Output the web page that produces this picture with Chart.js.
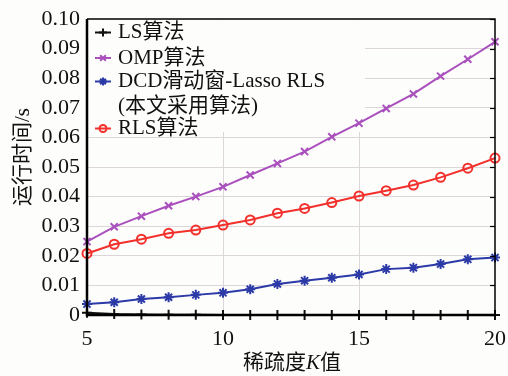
<!DOCTYPE html>
<html>
<head>
<meta charset="utf-8">
<script src="https://cdn.jsdelivr.net/npm/chart.js@4.4.1/dist/chart.umd.min.js"></script>
<style>
    html, body { margin: 0; padding: 0; background: #fdfdfb; }
    #wrap { width: 508px; height: 376px; }
</style>
</head>
<body>
<div id="wrap"><canvas id="runtime-chart" width="508" height="376"></canvas></div>
<script>
// 稀疏度 K 与各算法运行时间
const kValues = [5, 6, 7, 8, 9, 10, 11, 12, 13, 14, 15, 16, 17, 18, 19, 20];
const lsTime  = [0.0008, 0.0003, 0.0002, 0.0001, 0.0001, 0, 0, 0, 0, 0, 0, 0, 0, 0, 0, 0];
const ompTime = [0.0248, 0.0298, 0.0334, 0.0369, 0.0400, 0.0433, 0.0473, 0.0512,
                 0.0552, 0.0602, 0.0648, 0.0698, 0.0747, 0.0807, 0.0864, 0.0923];
const dcdTime = [0.0037, 0.0043, 0.0054, 0.0060, 0.0068, 0.0075, 0.0087, 0.0105,
                 0.0116, 0.0126, 0.0137, 0.0155, 0.0160, 0.0172, 0.0188, 0.0194];
const rlsTime = [0.0208, 0.0239, 0.0256, 0.0276, 0.0287, 0.0304, 0.0321, 0.0344,
                 0.0360, 0.0380, 0.0402, 0.0420, 0.0439, 0.0465, 0.0496, 0.0530];
const seriesNames = ['LS算法', 'OMP算法', 'DCD滑动窗-Lasso RLS\n(本文采用算法)', 'RLS算法'];
const xTicks = [5, 10, 15, 20];
const yTicks = [0, 0.01, 0.02, 0.03, 0.04, 0.05, 0.06, 0.07, 0.08, 0.09, 0.10];

const BG = '#fdfdfb';
const FONT = '"Liberation Serif", "Noto Sans CJK SC", serif';
const GRID = '#dcd6da';

function toPoints(values) {
    return kValues.map((k, i) => ({ x: k, y: values[i] }));
}

function makeDataset(label, values, color, style, radius) {
    const fill = style === 'circle' ? 'rgba(0,0,0,0)' : color;
    return {
        label: label,
        data: toPoints(values),
        borderColor: color,
        backgroundColor: fill,
        borderWidth: 2,
        pointStyle: style,
        pointRadius: radius,
        pointBorderWidth: 2,
        pointBorderColor: color,
        pointBackgroundColor: fill,
        tension: 0,
        clip: false
    };
}

// keep the plot box fixed, labels may hang over the edges
function fixBox(scale, size, horizontal) {
    if (horizontal) scale.height = size; else scale.width = size;
    scale.paddingLeft = 0;
    scale.paddingRight = 0;
    scale.paddingTop = 0;
    scale.paddingBottom = 0;
}

// legend, frame and axis titles drawn by hand (legend sits inside the plot)
const decorPlugin = {
    id: 'decor',
    beforeDraw(chart) {
        const ctx = chart.ctx;
        ctx.save();
        ctx.fillStyle = BG;
        ctx.fillRect(0, 0, chart.width, chart.height);
        ctx.restore();
    },
    beforeDatasetsDraw(chart) {
        // legend box hides the grid behind it, lines still go over it
        const a = chart.chartArea;
        const ctx = chart.ctx;
        ctx.save();
        ctx.fillStyle = BG;
        ctx.fillRect(a.left + 1, a.top + 1, 277, 112);
        ctx.restore();
    },
    afterDatasetsDraw(chart) {
        const ctx = chart.ctx;
        const a = chart.chartArea;
        const yScale = chart.scales.y;
        ctx.save();

        // inward ticks on the right
        ctx.strokeStyle = '#000';
        ctx.lineWidth = 1.2;
        yTicks.forEach(v => {
            const py = Math.round(yScale.getPixelForValue(v)) + 0.5;
            ctx.beginPath();
            ctx.moveTo(a.right, py); ctx.lineTo(a.right - 5, py);
            ctx.stroke();
        });

        const rows = [32.5, 58, 81.5, 128.5];
        ctx.font = '21px ' + FONT;
        ctx.textBaseline = 'middle';
        ctx.textAlign = 'left';
        chart.data.datasets.forEach((ds, i) => {
            const y = rows[i];
            ctx.strokeStyle = ds.borderColor;
            ctx.fillStyle = ds.pointBackgroundColor;
            ctx.lineWidth = 2;
            ctx.beginPath();
            ctx.moveTo(95, y); ctx.lineTo(111, y);
            ctx.stroke();
            Chart.helpers.drawPoint(ctx, {
                pointStyle: ds.pointStyle,
                radius: ds.pointRadius - 1,
                borderWidth: 2,
                rotation: 0
            }, 103, y);
            ctx.fillStyle = '#111';
            const lines = seriesNames[i].split('\n');
            lines.forEach((t, j) => ctx.fillText(t, 118, y + j * 24.5));
        });

        // frame
        ctx.strokeStyle = '#000';
        ctx.lineWidth = 1.5;
        ctx.beginPath();
        ctx.moveTo(a.left, a.top); ctx.lineTo(a.right, a.top); ctx.lineTo(a.right, a.bottom);
        ctx.stroke();
        ctx.lineWidth = 2.5;
        ctx.beginPath();
        ctx.moveTo(a.left, a.top); ctx.lineTo(a.left, a.bottom); ctx.lineTo(a.right + 1, a.bottom);
        ctx.stroke();

        // y title
        ctx.fillStyle = '#111';
        ctx.font = '21px ' + FONT;
        ctx.textAlign = 'center';
        ctx.textBaseline = 'middle';
        ctx.save();
        ctx.translate(23, 157);
        ctx.rotate(-Math.PI / 2);
        ctx.fillText('运行时间/s', 0, 0);
        ctx.restore();

        // x title: 稀疏度K值, K in italic
        const parts = [['稀疏度', '21px ' + FONT], ['K', 'italic 21px ' + FONT], ['值', '21px ' + FONT]];
        let total = 0;
        parts.forEach(p => { ctx.font = p[1]; total += ctx.measureText(p[0]).width; });
        let x = 292 - total / 2;
        ctx.textAlign = 'left';
        parts.forEach(p => {
            ctx.font = p[1];
            ctx.fillText(p[0], x, 363);
            x += ctx.measureText(p[0]).width;
        });
        ctx.restore();
    }
};

new Chart(document.getElementById('runtime-chart'), {
    type: 'line',
    data: {
        datasets: [
            makeDataset(seriesNames[0], lsTime, '#111111', 'cross', 5),
            makeDataset(seriesNames[1], ompTime, '#a950bd', 'crossRot', 5),
            makeDataset(seriesNames[2], dcdTime, '#2c3aa8', 'star', 5),
            makeDataset(seriesNames[3], rlsTime, '#f2302c', 'circle', 4.5)
        ]
    },
    options: {
        responsive: false,
        animation: false,
        events: [],
        layout: { padding: { top: 19, right: 13, left: 0, bottom: 0 } },
        plugins: {
            legend: { display: false },
            tooltip: { enabled: false }
        },
        scales: {
            x: {
                type: 'linear',
                min: 5,
                max: 20,
                afterFit(scale) { fixBox(scale, 61, true); },
                afterBuildTicks(scale) { scale.ticks = xTicks.map(v => ({ value: v })); },
                ticks: {
                    color: '#111',
                    font: { family: FONT, size: 22 },
                    padding: 11,
                    maxRotation: 0
                },
                grid: {
                    drawTicks: false,
                    color: ctx => (ctx.tick && (ctx.tick.value === 10 || ctx.tick.value === 15)) ? GRID : 'rgba(0,0,0,0)',
                    lineWidth: 1
                },
                border: { display: false }
            },
            y: {
                min: 0,
                max: 0.1,
                afterFit(scale) { fixBox(scale, 87, false); },
                afterBuildTicks(scale) { scale.ticks = yTicks.map(v => ({ value: v })); },
                ticks: {
                    color: '#111',
                    font: { family: FONT, size: 22 },
                    padding: 7,
                    callback: v => v === 0 ? '0' : v.toFixed(2)
                },
                grid: {
                    drawTicks: false,
                    color: ctx => (ctx.tick && ctx.tick.value > 0 && ctx.tick.value < 0.1) ? GRID : 'rgba(0,0,0,0)',
                    lineWidth: 1
                },
                border: { display: false }
            }
        }
    },
    plugins: [decorPlugin]
});
</script>
</body>
</html>
